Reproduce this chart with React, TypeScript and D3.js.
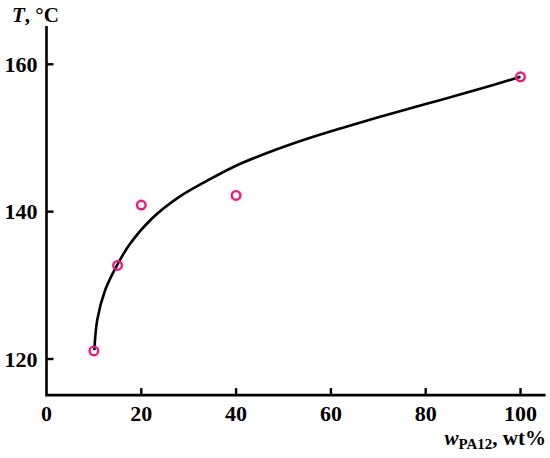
import { useEffect, useRef } from 'react';
import * as d3 from 'd3';

// measured points (PA12 content vs temperature)
const wPA12 = [10, 15, 20, 40, 100];
const tMeasured = [121.1, 132.7, 140.9, 142.2, 158.3];

// fitted curve
const fitW = [10.1, 10.7, 12.4, 14.9, 17.7, 22.3, 28.0, 33.9, 40.2, 47.9, 55, 62, 70, 80, 90, 100];
const fitT = [121.2, 125.3, 129.4, 132.75, 135.7, 139.1, 142.0, 144.2, 146.3, 148.3, 149.9, 151.3, 152.8, 154.6, 156.4, 158.3];

const xTicks = [0, 20, 40, 60, 80, 100];
const yTicks = [120, 140, 160];

export default function App() {
  const svgRef = useRef<SVGSVGElement>(null);

  useEffect(() => {
    if (!svgRef.current) return;
    const svg = d3.select(svgRef.current);
    svg.selectAll('*').remove();

    const font = '"Liberation Serif", "Times New Roman", serif';
    const pink = '#f7147f';

    const x = d3.scaleLinear().domain([0, 100]).range([46.5, 520.5]);
    const y = d3.scaleLinear().domain([120, 160]).range([359, 64.3]);

    const x0 = 46.5;
    const yBottom = y(115.1);
    const yTop = y(165.2);
    const xRight = x(105.3);

    // axes
    svg.append('path')
      .attr('d', `M${x0},${yTop} L${x0},${yBottom} L${xRight},${yBottom}`)
      .attr('fill', 'none')
      .attr('stroke', '#000')
      .attr('stroke-width', 2.6);

    // x ticks (inward)
    xTicks.forEach(v => {
      if (v > 0) {
        svg.append('line')
          .attr('x1', x(v)).attr('x2', x(v))
          .attr('y1', yBottom).attr('y2', yBottom - 7)
          .attr('stroke', '#000').attr('stroke-width', 2.4);
      }
      svg.append('text')
        .attr('x', x(v))
        .attr('y', yBottom + 26)
        .attr('text-anchor', 'middle')
        .attr('font-family', font)
        .attr('font-weight', 'bold')
        .attr('font-size', '22px')
        .text(v);
    });

    // y ticks (inward)
    yTicks.forEach(v => {
      svg.append('line')
        .attr('x1', x0).attr('x2', x0 + 7)
        .attr('y1', y(v)).attr('y2', y(v))
        .attr('stroke', '#000').attr('stroke-width', 2.4);
      svg.append('text')
        .attr('x', 37.5)
        .attr('y', y(v) + 7.5)
        .attr('text-anchor', 'end')
        .attr('font-family', font)
        .attr('font-weight', 'bold')
        .attr('font-size', '22px')
        .text(v);
    });

    // y title
    const yt = svg.append('text')
      .attr('x', 12)
      .attr('y', 22)
      .attr('font-family', font)
      .attr('font-weight', 'bold')
      .attr('font-size', '21px');
    yt.append('tspan').attr('font-style', 'italic').text('T');
    yt.append('tspan').text(', °C');

    // x title
    const xt = svg.append('text')
      .attr('x', 546)
      .attr('y', 445)
      .attr('text-anchor', 'end')
      .attr('font-family', font)
      .attr('font-weight', 'bold')
      .attr('font-size', '21px');
    xt.append('tspan').attr('font-style', 'italic').text('w');
    xt.append('tspan').attr('font-size', '15px').attr('dy', 4).text('PA12');
    xt.append('tspan').attr('dy', -4).text(', wt%');

    // fitted curve
    const line = d3.line<number>()
      .x(i => x(fitW[i]))
      .y(i => y(fitT[i]))
      .curve(d3.curveCatmullRom.alpha(0.5));

    svg.append('path')
      .attr('d', line(d3.range(fitW.length)))
      .attr('fill', 'none')
      .attr('stroke', '#000')
      .attr('stroke-width', 2.6);

    // points
    svg.append('g')
      .selectAll('circle')
      .data(d3.range(wPA12.length))
      .join('circle')
      .attr('cx', i => x(wPA12[i]))
      .attr('cy', i => y(tMeasured[i]))
      .attr('r', 4.3)
      .attr('fill', 'none')
      .attr('stroke', pink)
      .attr('stroke-width', 2.4);
  }, []);

  return (
    <svg
      ref={svgRef}
      width={550}
      height={458}
      style={{ position: 'absolute', left: 0, top: 0, background: '#fff' }}
    />
  );
}
